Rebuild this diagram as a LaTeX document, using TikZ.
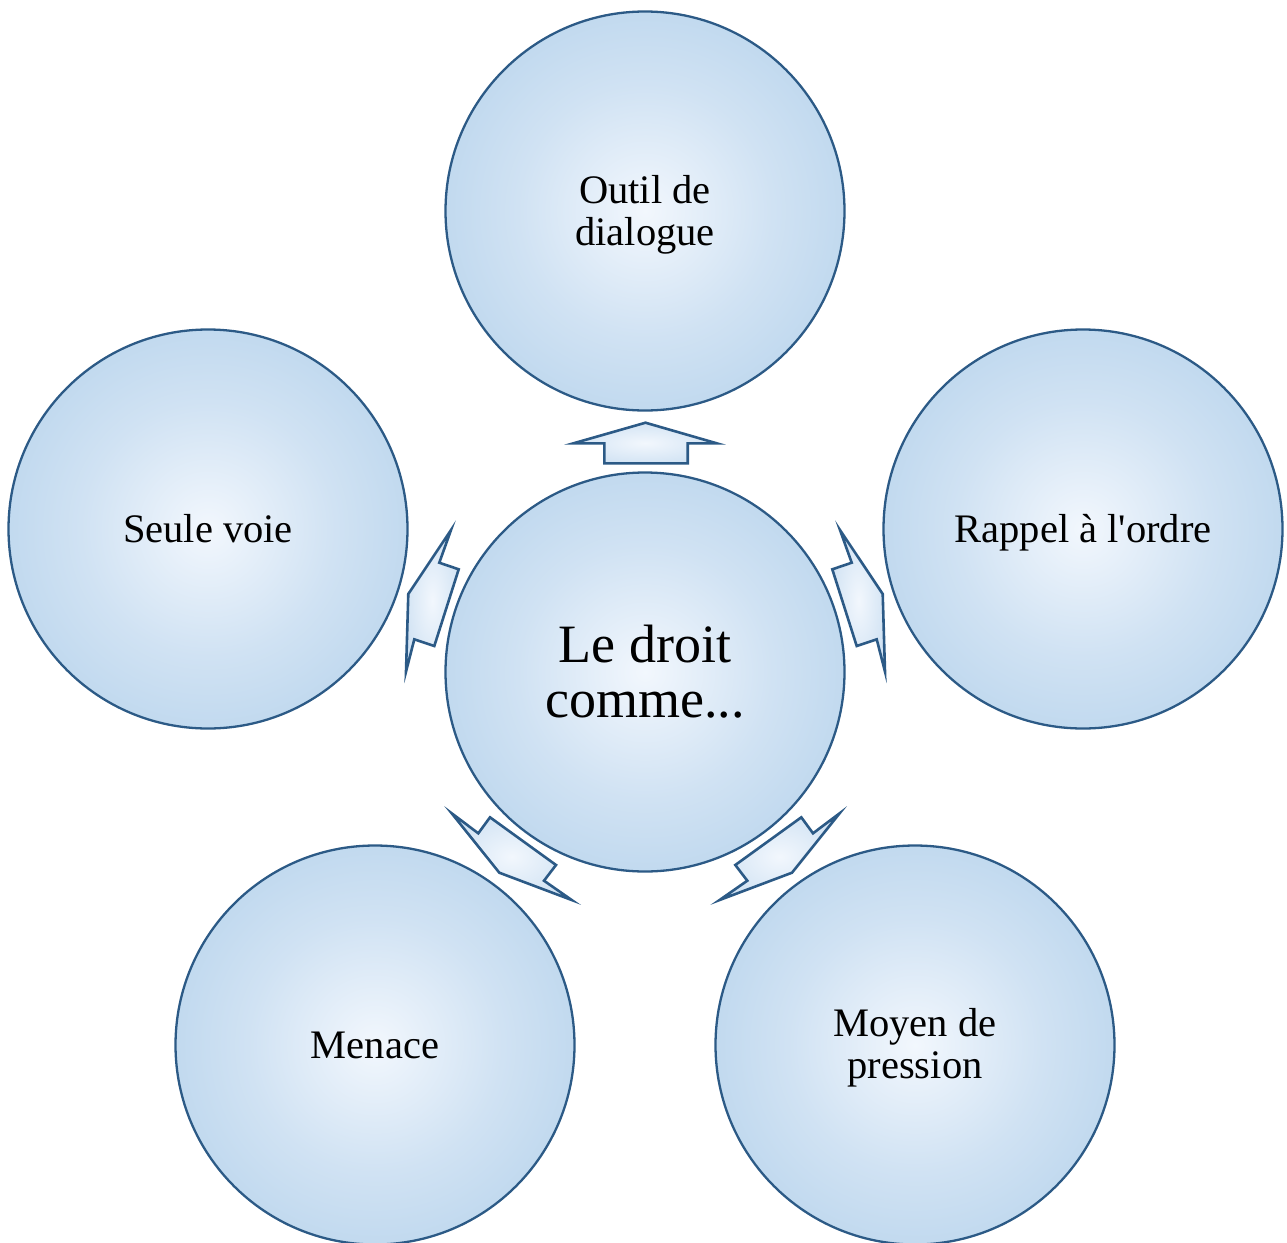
\documentclass[tikz,border=0pt]{standalone}
\usepackage{fontspec}
\setmainfont{Liberation Serif}
\definecolor{rimblue}{RGB}{44,90,134}
\definecolor{cwhite}{RGB}{242,247,253}
\definecolor{cmid}{RGB}{208,226,243}
\definecolor{cring}{RGB}{176,207,234}
\definecolor{cedge}{RGB}{194,218,240}
\pgfdeclareradialshading{bubble}{\pgfpoint{0bp}{0bp}}{color(0bp)=(cwhite); color(16bp)=(cmid); color(36bp)=(cring); color(45bp)=(cring); color(50bp)=(cedge); color(60bp)=(cedge)}
\pgfdeclareradialshading{arrowshade}{\pgfpoint{0bp}{0bp}}{color(0bp)=(cwhite); color(28bp)=(cmid); color(50bp)=(cring); color(70bp)=(cring)}
\begin{document}
\begin{tikzpicture}[x=1pt,y=-1pt,
  bubble/.style={circle, draw=rimblue, line width=2.3pt, shading=bubble, minimum size=399pt, inner sep=0pt},
  lbl/.style={align=center, inner sep=0pt, font=\fontsize{40.5}{42}\selectfont},
  blockarrow/.style={draw=rimblue, line width=2.6pt, line join=miter, shading=arrowshade}]
\useasboundingbox (0,0) rectangle (1287,1242);
% circles
\node[bubble] (top) at (645,211) {};
\node[bubble] (right) at (1083,529) {};
\node[bubble] (left) at (208,529) {};
\node[bubble] (botleft) at (375,1045) {};
\node[bubble] (botright) at (915,1045) {};
\node[bubble] (center) at (645,672) {};
% labels
\node[lbl] (ltop) at ([yshift=-4pt]top.center) {Outil de\\dialogue};
\node[lbl] (lright) at ([yshift=-4pt]right.center) {Rappel à l\textquotesingle ordre};
\node[lbl] (lleft) at ([yshift=0pt]left.center) {Seule voie};
\node[lbl] (lbotleft) at ([yshift=0pt]botleft.center) {Menace};
\node[lbl] (lbotright) at ([yshift=-3pt]botright.center) {Moyen de\\pression};
\node[lbl, font=\fontsize{54}{55}\selectfont] (lcenter) at ([yshift=0pt]center.center) {Le droit\\comme...};
% arrows
\path[blockarrow] (645.5,422.7) -- (716.7,443.3) -- (687.7,443.3) -- (687.7,463.3) -- (604.3,463.3) -- (604.3,443.3) -- (573.5,443.3) -- cycle;
\path[blockarrow] (840,530) -- (882.7,594) -- (885,671.7) -- (876.7,639.3) -- (856.7,646) -- (832.3,569.3) -- (851.7,562.7) -- cycle;
\path[blockarrow] (451,530) -- (408.3,594) -- (406,671.7) -- (414.3,639.3) -- (434.3,646) -- (458.7,569.3) -- (439.3,562.7) -- cycle;
\path[blockarrow] (451.7,813.3) -- (478.3,833.3) -- (490,817.3) -- (556,865) -- (544,880.7) -- (571.7,900) -- (499.3,872.7) -- cycle;
\path[blockarrow] (839.6,813.3) -- (813,833.3) -- (801.3,817.3) -- (735.3,865) -- (747.3,880.7) -- (719.6,900) -- (792,872.7) -- cycle;
\end{tikzpicture}
\end{document}
